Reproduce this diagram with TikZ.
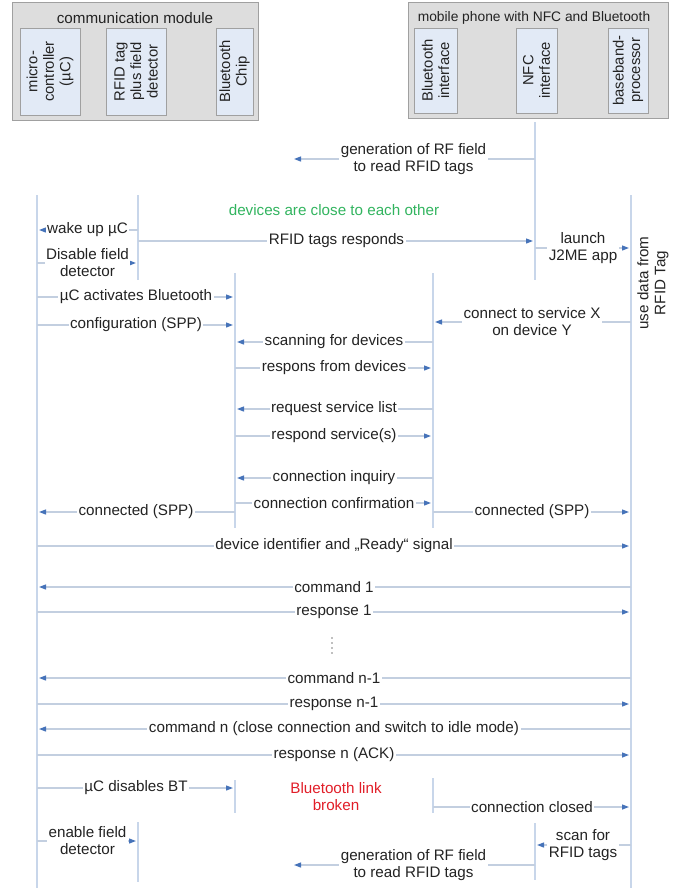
\documentclass[tikz,border=0pt]{standalone}
\usepackage{fontspec}
\setmainfont{Liberation Sans}
\usetikzlibrary{arrows.meta,calc}
\definecolor{lifec}{RGB}{200,214,234}
\definecolor{msgc}{RGB}{195,207,224}
\definecolor{tipc}{RGB}{70,115,185}
\definecolor{hdrfill}{RGB}{221,221,221}
\definecolor{hdrdraw}{RGB}{160,160,160}
\definecolor{boxfill}{RGB}{226,234,246}
\definecolor{txtc}{RGB}{35,35,35}
\definecolor{grn}{RGB}{50,180,95}
\definecolor{rd}{RGB}{225,30,40}
\newcommand\seqmsg[4]{\draw[msg] ($(#1)+(0,#3)$) -- node[lbl]{#4} ($(#2)+(0,#3)$);}
\newcommand\lifeseg[3]{\draw[life] ($(#1)+(0,#2)$) -- ($(#1)+(0,#3)$);}
\begin{document}
\begin{tikzpicture}[x=1pt,y=-1pt,
  every node/.style={font=\fontsize{15.2}{17}\selectfont, text=txtc},
  life/.style={draw=lifec, line width=1.3pt},
  msg/.style={draw=msgc, line width=1.2pt, -{Triangle[length=7pt,width=5pt,color=tipc]}, shorten >=2pt},
  lbl/.style={fill=white, inner sep=1.5pt, align=center},
  hdr/.style={draw=hdrdraw, fill=hdrfill, line width=0.8pt, anchor=north west},
  ibox/.style={draw=hdrdraw, fill=boxfill, line width=0.8pt, rotate=90, align=center, inner sep=0pt,
    font=\fontsize{14.8}{16.5}\selectfont},
]
\useasboundingbox (0,0) rectangle (684,892);

% header boxes
\node[hdr, minimum width=246pt, minimum height=118pt] (cmod) at (12,2) {};
\node (cmodt) at (135,18) {communication module};
\node[hdr, minimum width=260pt, minimum height=116pt] (phone) at (408,2) {};
\node[font=\fontsize{13.8}{16}\selectfont] (phonet) at (534,18) {mobile phone with NFC and Bluetooth};

\node[ibox, minimum width=87pt, minimum height=60pt] (mcb) at (50,71.5) {micro-\\controller\\(µC)};
\node[ibox, minimum width=87pt, minimum height=60pt] (rfb) at (136,71.5) {RFID tag\\plus field\\detector};
\node[ibox, minimum width=87pt, minimum height=37pt] (btcb) at (234.5,71.5) {Bluetooth\\Chip};
\node[ibox, minimum width=85pt, minimum height=43pt] (btib) at (435.5,70.5) {Bluetooth\\interface};
\node[ibox, minimum width=85pt, minimum height=41pt] (nfcb) at (536.5,70.5) {NFC\\interface};
\node[ibox, minimum width=85pt, minimum height=40pt] (bbb) at (628,70.5) {baseband-\\processor};

% lifeline positions
\coordinate (uC) at (37,0);
\coordinate (rf) at (138,0);
\coordinate (btc) at (235,0);
\coordinate (bti) at (433,0);
\coordinate (nfc) at (535,0);
\coordinate (bb) at (631,0);

% lifelines
\lifeseg{uC}{195}{888}
\lifeseg{rf}{195}{280}
\lifeseg{rf}{822}{882}
\lifeseg{btc}{273}{528}
\lifeseg{btc}{780}{813}
\lifeseg{bti}{273}{528}
\lifeseg{bti}{778}{813}
\lifeseg{nfc}{122}{280}
\lifeseg{nfc}{823}{880}
\lifeseg{bb}{195}{888}

% free ends
\coordinate (gen1) at (292,159);
\coordinate (gen2) at (292,865);

\draw[msg] ($(nfc)+(0,159)$) -- node[lbl]{generation of RF field\\to read RFID tags} (gen1);
\node[text=grn] (close) at (334,210) {devices are close to each other};
\seqmsg{rf}{uC}{230}{wake up µC}
\seqmsg{rf}{nfc}{241}{RFID tags responds}
\seqmsg{nfc}{bb}{248}{launch\\J2ME app}
\seqmsg{uC}{rf}{263}{Disable field\\detector}
\node[rotate=90, align=center] (usedata) at (653,283) {use data from\\RFID Tag};
\seqmsg{uC}{btc}{297}{µC activates Bluetooth}
\seqmsg{bb}{bti}{322}{connect to service X\\on device Y}
\seqmsg{uC}{btc}{325}{configuration (SPP)}
\seqmsg{bti}{btc}{342}{scanning for devices}
\seqmsg{btc}{bti}{368}{respons from devices}
\seqmsg{bti}{btc}{409}{request service list}
\seqmsg{btc}{bti}{436}{respond service(s)}
\seqmsg{bti}{btc}{478}{connection inquiry}
\seqmsg{btc}{bti}{503}{connection confirmation}
\seqmsg{btc}{uC}{512}{connected (SPP)}
\seqmsg{bti}{bb}{512}{connected (SPP)}
\seqmsg{uC}{bb}{546}{device identifier and „Ready“ signal}
\seqmsg{bb}{uC}{587}{command 1}
\seqmsg{uC}{bb}{612}{response 1}
\foreach \yy in {638,643,648,653} \fill[gray] (332,\yy) circle (0.9pt);
\seqmsg{bb}{uC}{678}{command n-1}
\seqmsg{uC}{bb}{704}{response n-1}
\seqmsg{bb}{uC}{729}{command n (close connection and switch to idle mode)}
\seqmsg{uC}{bb}{755}{response n (ACK)}
\seqmsg{uC}{btc}{788}{µC disables BT}
\node[text=rd, align=center] (broken) at (336,797) {Bluetooth link\\broken};
\seqmsg{bti}{bb}{807}{connection closed}
\seqmsg{uC}{rf}{841}{enable field\\detector}
\seqmsg{bb}{nfc}{845}{scan for\\RFID tags}
\draw[msg] ($(nfc)+(0,865)$) -- node[lbl]{generation of RF field\\to read RFID tags} (gen2);
\end{tikzpicture}
\end{document}
